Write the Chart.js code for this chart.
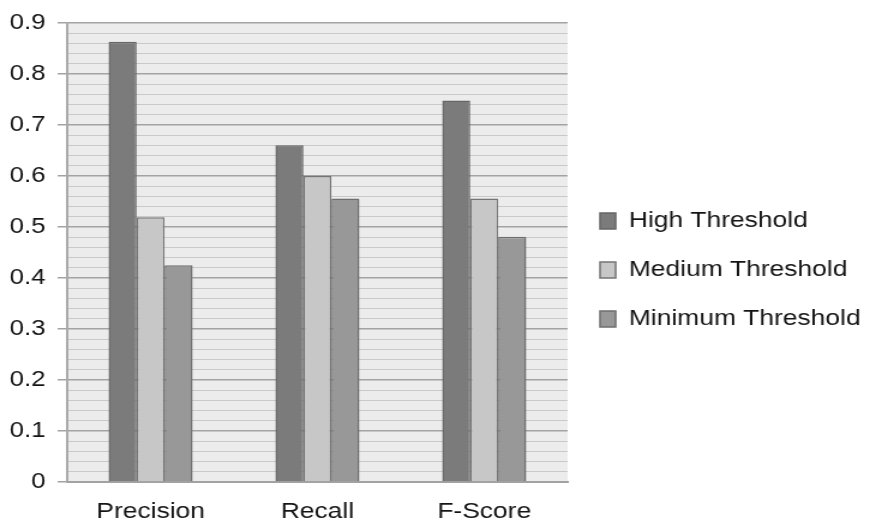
<!DOCTYPE html>
<html>
<head>
<meta charset="utf-8">
<script src="https://cdn.jsdelivr.net/npm/chart.js@4/dist/chart.umd.min.js"></script>
<style>
  html, body { margin: 0; padding: 0; background: #ffffff; overflow: hidden; }
  /* the chart is laid out narrower and widened horizontally, giving the wide-set lettering */
  #wrap { position: absolute; left: 0; top: 0; width: 725px; height: 529px;
          transform: scaleX(1.2); transform-origin: 0 0; }
</style>
</head>
<body>
<div id="wrap"><canvas id="chart"></canvas></div>
<script>
// Categories and series
const categories = ['Precision', 'Recall', 'F-Score'];
const seriesNames = ['High Threshold', 'Medium Threshold', 'Minimum Threshold'];
const highThreshold = [0.863, 0.660, 0.748];
const mediumThreshold = [0.519, 0.600, 0.556];
const minimumThreshold = [0.425, 0.556, 0.481];

// Value axis labels
const yTickLabels = ['0', '0.1', '0.2', '0.3', '0.4', '0.5', '0.6', '0.7', '0.8', '0.9'];

const FONT = '"Liberation Sans", Arial, Helvetica, sans-serif';
const TEXT = '#141414';

// Grey panel behind the plot area
const plotBackground = {
  id: 'plotBackground',
  beforeDraw(chart) {
    const { ctx, chartArea: a } = chart;
    ctx.save();
    ctx.fillStyle = '#ececec';
    ctx.fillRect(a.left, a.top, a.right - a.left, a.bottom - a.top);
    ctx.restore();
  }
};

new Chart(document.getElementById('chart'), {
  type: 'bar',
  data: {
    labels: categories,
    datasets: [
      { label: seriesNames[0], data: highThreshold,
        backgroundColor: '#7b7b7b', borderColor: '#666666', borderWidth: 1.5 },
      { label: seriesNames[1], data: mediumThreshold,
        backgroundColor: '#c6c7c6', borderColor: '#747474', borderWidth: 1.5 },
      { label: seriesNames[2], data: minimumThreshold,
        backgroundColor: '#979897', borderColor: '#6e6e6e', borderWidth: 1.5 }
    ]
  },
  options: {
    responsive: true,
    maintainAspectRatio: false,
    animation: false,
    events: [],
    layout: { padding: { top: 19, right: 0, bottom: 8, left: 0 } },
    datasets: {
      bar: { categoryPercentage: 0.504, barPercentage: 1.0 }
    },
    scales: {
      x: {
        offset: true,
        grid: { display: false, drawTicks: false, tickLength: 0 },
        border: { display: true, color: '#a2a2a2', width: 2 },
        ticks: { padding: 17, color: TEXT, font: { family: FONT, size: 22 } },
        afterFit(scale) { scale.height = 39; }
      },
      y: {
        position: 'left',
        min: 0,
        max: 0.9,
        grid: { color: '#a3a3a3', lineWidth: 1.5, tickLength: 8, drawTicks: true, z: -1 },
        border: { display: true, color: '#a9a9a9', width: 2 },
        ticks: {
          stepSize: 0.1,
          padding: 10,
          color: TEXT,
          font: { family: FONT, size: 21.5 },
          callback: (v) => yTickLabels[Math.round(v * 10)]
        },
        afterFit(scale) { scale.width = 56; }
      },
      yMinor: {
        position: 'left',
        min: 0,
        max: 0.9,
        grid: { color: '#c9c9c9', lineWidth: 1, drawTicks: false, z: -2 },
        border: { display: false },
        ticks: { display: false, stepSize: 0.02 },
        afterFit(scale) { scale.width = 0; }
      }
    },
    plugins: {
      legend: {
        position: 'right',
        align: 'center',
        maxWidth: 252,
        labels: {
          boxWidth: 13,
          boxHeight: 16,
          padding: 27,
          color: TEXT,
          font: { family: FONT, size: 22 }
        }
      },
      tooltip: { enabled: false }
    }
  },
  plugins: [plotBackground]
});
</script>
</body>
</html>
